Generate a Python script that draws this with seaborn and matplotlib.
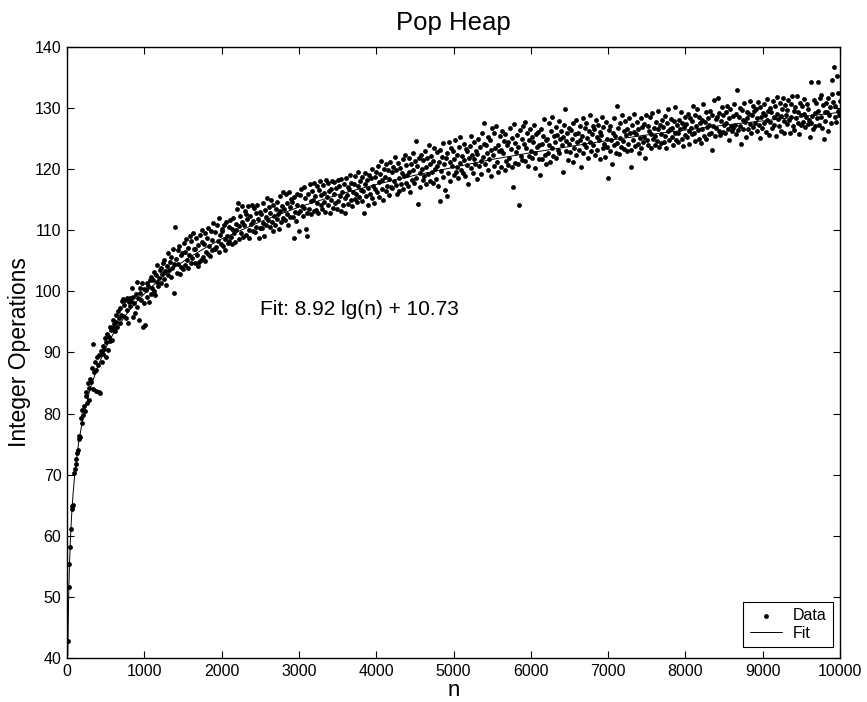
import matplotlib
matplotlib.use('Agg')
import matplotlib.pyplot as plt
import seaborn as sns

# measured integer operations per pop, one sample every 10 elements (n = 10 .. 10000)
n_start = 10
n_step = 10
ops = [
    42.7, 51.6, 55.3, 58.2, 61.1, 64.4, 64.9, 65.1, 70.3, 71.0,
    72.5, 71.8, 73.6, 74.1, 75.9, 76.3, 76.1, 79.2, 78.5, 80.6,
    79.8, 81.3, 80.4, 82.9, 83.5, 81.7, 85.0, 84.2, 82.3, 85.6,
    85.1, 87.4, 91.4, 84.0, 86.8, 88.5, 87.1, 83.7, 89.3, 88.0,
    89.6, 83.6, 83.4, 90.2, 88.4, 91.0, 89.8, 90.5, 92.3, 89.2,
    91.7, 93.0, 90.4, 92.5, 94.2, 91.8, 93.7, 92.1, 95.3, 94.0,
    94.6, 93.5, 96.1, 95.0, 94.1, 96.8, 95.7, 97.3, 94.8, 96.2,
    98.4, 98.7, 95.9, 97.8, 98.6, 95.6, 98.9, 97.0, 94.9, 98.2,
    98.9, 97.6, 98.4, 100.5, 99.1, 95.8, 98.1, 96.4, 99.5, 97.4,
    101.6, 98.9, 95.3, 100.6, 99.8, 98.6, 101.3, 94.2, 100.4, 98.1,
    94.5, 100.2, 99.0, 101.4, 100.8, 98.3, 101.9, 99.6, 102.4, 100.5,
    101.8, 100.1, 103.2, 99.4, 102.6, 101.5, 104.3, 100.9, 102.2, 103.5,
    103.8, 101.3, 102.9, 104.6, 102.0, 105.1, 103.4, 101.0, 104.2, 102.7,
    106.2, 103.5, 104.8, 102.4, 105.6, 103.9, 107.0, 104.4, 99.8, 110.5,
    105.3, 103.0, 106.8, 104.5, 107.4, 102.9, 105.9, 104.0, 106.3, 103.6,
    107.9, 104.3, 106.5, 108.6, 105.2, 103.8, 107.1, 106.0, 109.0, 104.7,
    108.2, 105.4, 109.5, 107.0, 104.6, 106.9, 108.8, 105.9, 107.6, 104.2,
    104.8, 109.2, 105.1, 108.0, 110.1, 105.6, 107.7, 104.9, 109.6, 106.4,
    108.8, 106.1, 110.4, 107.5, 105.8, 109.9, 106.7, 108.4, 111.2, 107.0,
    106.9, 109.7, 107.3, 110.8, 108.2, 106.5, 112.0, 109.3, 107.8, 110.2,
    109.8, 107.4, 110.9, 108.6, 106.8, 111.3, 109.1, 107.9, 110.5, 108.3,
    111.6, 108.9, 110.2, 107.7, 112.0, 109.5, 108.1, 111.1, 110.0, 113.4,
    114.5, 110.7, 108.6, 112.3, 109.6, 114.0, 111.4, 108.9, 110.9, 113.1,
    112.7, 109.3, 111.8, 113.9, 110.1, 108.8, 112.4, 111.0, 114.2, 109.9,
    111.5, 113.6, 109.7, 112.8, 110.6, 114.1, 111.9, 108.7, 113.0, 110.4,
    112.6, 110.3, 114.4, 111.2, 109.1, 113.3, 112.1, 110.8, 115.2, 111.7,
    113.8, 110.5, 112.9, 115.0, 111.4, 109.8, 114.1, 112.3, 110.9, 113.5,
    111.9, 114.7, 112.6, 110.2, 115.6, 113.1, 111.3, 114.0, 112.0, 116.2,
    113.5, 111.6, 115.9, 112.7, 114.4, 110.9, 116.3, 113.8, 112.2, 115.1,
    114.6, 112.1, 108.8, 115.4, 113.0, 111.5, 116.0, 114.2, 112.8, 109.9,
    115.7, 113.2, 116.8, 114.0, 112.4, 117.1, 113.6, 115.3, 110.2, 112.9,
    109.0, 115.9, 113.4, 117.5, 114.8, 112.6, 116.4, 115.0, 113.1, 117.8,
    115.6, 113.3, 117.2, 114.5, 112.8, 116.6, 118.0, 114.1, 115.8, 113.5,
    117.4, 114.6, 116.1, 113.0, 118.3, 115.5, 117.7, 114.2, 116.5, 112.9,
    116.8, 114.9, 118.1, 113.7, 115.9, 117.9, 114.4, 116.9, 113.5, 118.2,
    114.8, 117.3, 115.6, 113.2, 118.4, 116.2, 114.1, 117.6, 115.2, 112.9,
    118.6, 115.7, 117.0, 114.3, 116.8, 119.1, 115.0, 117.8, 113.9, 116.3,
    117.5, 115.1, 118.9, 116.0, 114.6, 117.2, 119.6, 115.4, 118.1, 116.6,
    114.8, 118.7, 116.4, 112.8, 117.6, 119.3, 115.6, 118.2, 116.9, 114.2,
    119.0, 116.0, 118.5, 115.3, 120.1, 117.3, 114.5, 118.8, 116.7, 119.6,
    116.2, 120.5, 117.9, 115.4, 119.2, 121.4, 116.8, 118.3, 114.9, 120.0,
    118.7, 116.5, 120.8, 117.2, 119.9, 115.8, 118.4, 121.1, 117.0, 119.5,
    116.9, 120.4, 118.0, 122.0, 117.4, 119.8, 115.9, 121.0, 118.6, 116.4,
    120.2, 117.6, 119.4, 121.6, 116.7, 118.9, 122.4, 117.8, 120.7, 119.1,
    117.3, 121.9, 119.6, 116.2, 120.9, 118.3, 122.7, 119.9, 117.7, 121.3,
    124.6, 118.6, 120.6, 114.3, 121.8, 119.4, 117.0, 122.3, 120.1, 118.2,
    121.5, 118.9, 123.0, 120.4, 117.5, 121.9, 119.2, 124.0, 118.1, 120.8,
    122.2, 119.5, 117.8, 121.4, 123.4, 120.0, 118.4, 122.8, 120.6, 117.2,
    121.1, 114.8, 123.1, 119.7, 122.0, 118.7, 124.3, 120.9, 116.6, 121.8,
    115.6, 122.6, 119.3, 124.4, 121.2, 118.0, 123.5, 120.5, 122.9, 119.0,
    121.7, 124.8, 119.6, 122.4, 120.3, 118.5, 123.7, 121.0, 125.2, 119.9,
    122.1, 119.4, 124.2, 121.5, 118.9, 123.3, 120.7, 122.9, 117.6, 121.9,
    123.8, 120.2, 125.5, 122.3, 119.3, 121.6, 124.5, 120.8, 123.0, 118.4,
    122.5, 125.0, 120.5, 123.6, 121.3, 119.2, 126.0, 122.0, 124.1, 127.6,
    120.9, 123.9, 122.6, 119.8, 125.3, 121.7, 124.7, 118.9, 123.2, 126.7,
    122.4, 125.9, 120.6, 123.5, 127.0, 121.2, 124.0, 119.6, 122.9, 125.4,
    123.1, 120.3, 126.2, 122.7, 124.6, 119.9, 125.7, 121.4, 123.9, 120.7,
    124.4, 121.8, 126.8, 123.3, 120.4, 125.1, 117.0, 127.4, 121.0, 124.3,
    122.8, 125.6, 123.7, 120.9, 114.2, 126.4, 122.2, 124.9, 121.5, 127.1,
    124.1, 121.3, 127.8, 123.4, 125.9, 120.6, 124.7, 122.1, 126.5, 123.0,
    125.2, 121.9, 124.4, 127.3, 122.6, 120.2, 125.8, 123.6, 126.1, 121.7,
    123.9, 119.0, 126.6, 124.2, 121.6, 125.5, 128.2, 122.4, 124.8, 120.8,
    125.0, 122.6, 127.5, 124.0, 121.2, 126.3, 123.4, 128.6, 122.1, 125.4,
    124.5, 126.9, 121.9, 125.6, 123.1, 127.9, 122.7, 124.9, 126.2, 124.0,
    125.3, 119.6, 127.2, 129.8, 124.6, 123.0, 125.9, 121.5, 126.7, 124.1,
    122.8, 126.4, 124.9, 121.1, 127.6, 123.5, 125.7, 122.3, 128.1, 124.4,
    126.0, 123.2, 124.8, 127.1, 120.4, 125.4, 122.6, 128.4, 124.2, 126.8,
    123.6, 127.5, 125.1, 121.8, 126.3, 124.5, 128.8, 122.9, 125.8, 127.0,
    124.0, 126.6, 122.4, 128.0, 125.3, 123.1, 127.3, 124.7, 121.6, 126.1,
    125.6, 128.5, 123.4, 126.9, 124.2, 122.0, 127.7, 125.0, 123.7, 118.6,
    126.4, 123.0, 127.1, 124.8, 120.9, 126.0, 128.3, 123.9, 125.5, 122.7,
    130.3, 124.3, 126.8, 122.5, 127.6, 125.1, 123.6, 128.9, 124.6, 126.3,
    123.3, 127.9, 125.6, 122.9, 126.6, 124.1, 128.4, 125.9, 123.1, 120.4,
    127.2, 124.7, 126.1, 129.0, 123.8, 125.8, 127.7, 124.2, 126.5, 122.6,
    125.1, 128.3, 123.5, 126.9, 124.5, 127.4, 125.3, 121.9, 128.8, 124.8,
    127.0, 124.0, 126.2, 128.6, 123.4, 125.7, 129.2, 124.9, 126.8, 123.9,
    125.4, 127.8, 124.6, 126.5, 129.5, 123.7, 127.2, 125.8, 124.3, 128.1,
    126.9, 124.4, 128.7, 125.5, 123.5, 127.6, 126.2, 129.8, 124.7, 126.6,
    128.2, 125.2, 126.8, 123.9, 127.9, 125.9, 130.1, 124.8, 127.3, 126.0,
    124.5, 128.0, 126.5, 129.4, 125.0, 127.5, 123.8, 126.9, 128.6, 125.6,
    127.4, 125.3, 129.1, 126.2, 124.1, 128.3, 126.8, 125.7, 127.9, 130.4,
    125.9, 128.8, 124.6, 127.1, 129.8, 126.4, 125.0, 128.5, 127.5, 124.3,
    128.1, 126.6, 130.7, 125.5, 127.8, 124.9, 129.3, 126.9, 128.4, 125.8,
    127.3, 129.6, 126.0, 123.1, 128.9, 127.0, 131.4, 125.4, 128.2, 126.7,
    128.6, 131.6, 126.3, 129.2, 125.6, 127.9, 130.1, 126.1, 128.8, 127.2,
    125.9, 129.4, 127.6, 130.3, 126.5, 128.3, 124.8, 129.9, 127.0, 126.2,
    128.7, 126.8, 130.6, 127.3, 125.7, 129.1, 133.0, 126.4, 128.5, 130.0,
    127.1, 124.1, 129.7, 128.0, 126.6, 130.8, 127.7, 125.3, 129.3, 128.4,
    126.5, 129.0, 131.2, 127.4, 125.9, 128.8, 130.4, 126.9, 129.5, 127.6,
    129.8, 126.3, 128.3, 131.0, 127.2, 125.1, 130.2, 128.6, 126.8, 129.2,
    127.5, 130.6, 128.9, 126.1, 131.5, 128.0, 129.6, 125.6, 130.0, 127.8,
    129.4, 126.7, 131.1, 128.5, 127.3, 130.3, 125.5, 129.1, 131.8, 128.2,
    127.0, 130.8, 128.7, 126.2, 129.9, 131.6, 127.9, 125.9, 130.5, 128.9,
    129.7, 127.4, 131.3, 128.1, 126.0, 130.7, 128.6, 132.0, 127.1, 129.5,
    126.4, 130.1, 128.4, 131.9, 127.6, 129.3, 125.8, 130.9, 128.8, 127.3,
    130.4, 127.8, 129.0, 131.5, 126.9, 128.5, 130.6, 127.4, 129.8, 128.1,
    125.2, 127.6, 134.2, 128.7, 126.5, 131.3, 129.2, 127.1, 130.8, 128.4,
    129.6, 134.2, 127.3, 131.7, 132.1, 128.6, 126.8, 130.5, 124.9, 129.4,
    127.9, 130.9, 129.3, 126.3, 131.6, 128.8, 130.2, 127.5, 132.3, 134.6,
    131.0, 136.8, 128.5, 130.4, 127.8, 135.3, 129.6, 132.4, 128.9, 131.2,
]
n_values = list(range(n_start, n_start + n_step * len(ops), n_step))

# fitted curve 8.92 lg(n) + 10.73, read at a few n values
fit_n = [10, 20, 30, 40, 50, 60, 70, 80, 90, 100, 150, 200, 300, 400, 500,
         600, 700, 800, 900, 1000, 1200, 1400, 1600, 1800, 2000, 2500, 3000,
         3500, 4000, 4500, 5000, 5500, 6000, 6500, 7000, 7500, 8000, 8500,
         9000, 9500, 10000]
fit_v = [40.4, 49.3, 54.5, 58.2, 61.1, 63.4, 65.4, 67.1, 68.6, 70.0, 75.2,
         78.9, 84.1, 87.8, 90.7, 93.1, 95.0, 96.8, 98.3, 99.6, 102.0, 104.0,
         105.7, 107.2, 108.6, 111.4, 113.8, 115.8, 117.5, 119.0, 120.3, 121.6,
         122.7, 123.7, 124.7, 125.6, 126.4, 127.2, 127.9, 128.6, 129.3]

fit_label = "Fit: 8.92 lg(n) + 10.73"

sns.set_style("ticks")
plt.rcParams['font.family'] = ['Liberation Sans', 'DejaVu Sans']
plt.rcParams['text.color'] = 'black'
plt.rcParams['axes.labelcolor'] = 'black'

fig = plt.figure(figsize=(8.67, 7.02), dpi=100)
ax = fig.add_axes([0.0773, 0.0627, 0.8916, 0.8704])

sns.scatterplot(x=n_values, y=ops, ax=ax, color="black", s=12,
                linewidth=0, label="Data", zorder=2)
sns.lineplot(x=fit_n, y=fit_v, ax=ax, color="black", linewidth=0.7,
             label="Fit", errorbar=None, zorder=3)

ax.set_xlim(0, 10000)
ax.set_ylim(40, 140)
ax.set_xticks(range(0, 10001, 1000))
ax.set_yticks(range(40, 141, 10))
ax.tick_params(direction="in", length=5, width=0.8, labelsize=11.5,
               top=True, right=True, pad=4, colors="black")
for side in ["top", "right", "bottom", "left"]:
    ax.spines[side].set_visible(True)
    ax.spines[side].set_linewidth(1.0)
    ax.spines[side].set_color("black")

ax.set_title("Pop Heap", fontsize=18.5, pad=12, color="black")
ax.set_xlabel("n", fontsize=16, labelpad=1)
ax.set_ylabel("Integer Operations", fontsize=16.5, labelpad=3)
ax.text(2500, 97.0, fit_label, fontsize=15, va="center", ha="left")

leg = ax.legend(loc="lower right", bbox_to_anchor=(1 - 7 / 773, 11 / 611),
                fontsize=11.5, frameon=True, fancybox=False,
                edgecolor="black", framealpha=1, handlelength=2.0,
                handletextpad=0.7, labelspacing=0.15, borderpad=0.4,
                borderaxespad=0)
leg.get_frame().set_linewidth(0.8)

fig.savefig("out.png", dpi=100)
